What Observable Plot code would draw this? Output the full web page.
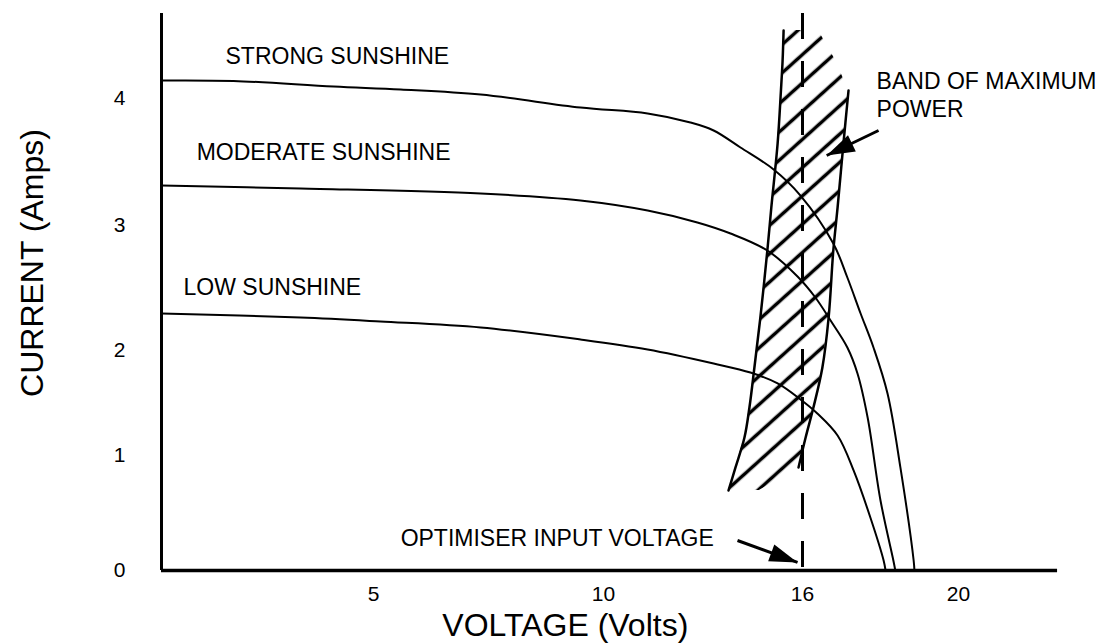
<!DOCTYPE html>
<html>
<head>
<meta charset="utf-8">
<script src="https://cdn.jsdelivr.net/npm/d3@7"></script>
<script src="https://cdn.jsdelivr.net/npm/@observablehq/plot@0.6"></script>
<style>
html, body { margin: 0; padding: 0; background: #fff; }
#chart svg { display: block; }
#chart svg [aria-label$="tick label"] { font-size: 21px; }
</style>
</head>
<body>
<div id="chart"></div>
<script>
// ---- tick labels ----
const xTicks = [5, 10, 16, 20];
const yTicks = [0, 1, 2, 3, 4];

// hand-drawn axis: knots of the (piecewise) voltage and current scales
const xKnots = [0, 5, 10, 16, 20];
const yKnots = [0, 1, 2, 3, 4];

// ---- I-V curves (Volts, Amps) ----
const strongV = [0, 1.70, 4.06, 5.59, 7.33, 9.50, 11.33, 12.62, 13.32, 14.13, 15.13, 15.94, 16.79, 17.15, 17.49, 17.82, 18.18, 18.51, 18.85, 18.87];
const strongA = [4.142, 4.138, 4.094, 4.071, 4.031, 3.929, 3.882, 3.811, 3.748, 3.614, 3.441, 3.236, 2.856, 2.584, 2.296, 2.024, 1.590, 0.896, 0.087, 0];

const moderateV = [0, 3.28, 7.33, 9.50, 11.33, 12.83, 13.83, 14.94, 15.85, 16.33, 16.72, 17.15, 17.41, 17.67, 18.00, 18.33, 18.38];
const moderateA = [3.315, 3.291, 3.252, 3.197, 3.118, 3.024, 2.936, 2.800, 2.592, 2.424, 2.240, 2.024, 1.781, 1.362, 0.609, 0.087, 0];

const lowV = [0, 3.28, 5.15, 7.33, 9.50, 11.33, 13.32, 14.43, 15.25, 15.94, 16.38, 16.90, 17.31, 17.74, 18.08, 18.13];
const lowA = [2.296, 2.264, 2.232, 2.184, 2.088, 2.008, 1.876, 1.790, 1.686, 1.533, 1.400, 1.190, 0.870, 0.461, 0.087, 0];

// ---- band of maximum power (Amps, left/right edge Volts) ----
const bandA      = [4.535, 4.299, 4.063, 3.646, 3.142, 2.800, 2.264, 1.838, 1.457, 1.171, 0.896, 0.696];
const bandLeftV  = [15.43, 15.40, 15.35, 15.25, 15.06, 14.94, 14.73, 14.55, 14.40, 14.25, 13.98, 13.77];
const bandRightV = [16.41, 16.85, 17.18, 17.05, 16.90, 16.79, 16.67, 16.51, 16.28, 16.08, 15.88, 14.70];

// ---- optimiser input voltage ----
const optimiserV = 16;
const axisTopA = 4.669;
const axisEndV = 22.54;

// ---- annotations ----
const noteText = ["STRONG SUNSHINE", "MODERATE SUNSHINE", "LOW SUNSHINE", "BAND OF MAXIMUM", "POWER", "OPTIMISER INPUT VOLTAGE"];
const noteV    = [1.51, 0.83, 0.52, 17.90, 17.90, 5.59];
const noteA    = [4.331, 3.575, 2.504, 4.134, 3.913, 0.278];

const arrowFromV = [14.04, 17.95];
const arrowFromA = [0.261, 3.748];
const arrowToV   = [15.85, 16.62];
const arrowToA   = [0.070, 3.551];

const xTitle = "VOLTAGE (Volts)";
const yTitle = "CURRENT (Amps)";

// ---- build tables ----
const xScaleOpts = {type: "linear", domain: xKnots, range: [161, 373, 603, 802, 958]};
const yScaleOpts = {type: "linear", domain: yKnots, range: [570, 455, 350, 225, 98]};
const sx = Plot.scale({x: xScaleOpts});
const sy = Plot.scale({y: yScaleOpts});

const curveData = [
  ["strong", strongV, strongA],
  ["moderate", moderateV, moderateA],
  ["low", lowV, lowA]
].flatMap(([name, V, A]) => V.map((v, i) => ({series: name, v, a: A[i]})));

const band = bandA.map((a, i) => ({a, l: bandLeftV[i], r: bandRightV[i]}));
const notes = noteText.map((t, i) => ({t, v: noteV[i], a: noteA[i]}));
const arrows = arrowFromV.map((_, i) => {
  const x1 = arrowFromV[i], y1 = arrowFromA[i], x2 = arrowToV[i], y2 = arrowToA[i];
  const dx = sx.apply(x2) - sx.apply(x1), dy = sy.apply(y2) - sy.apply(y1);
  return {x1, y1, x2, y2, rot: Math.atan2(dx, -dy) * 180 / Math.PI};
});

const headSymbol = {
  draw(ctx) {
    const L = 28, w = 9;
    ctx.moveTo(0, 0);
    ctx.lineTo(-w, L);
    ctx.lineTo(w, L);
    ctx.closePath();
  }
};

const font = "'Liberation Sans', Arial, Helvetica, sans-serif";

const chart = Plot.plot({
  width: 1115,
  height: 643,
  marginLeft: 161,
  marginTop: 13,
  marginBottom: 73,
  marginRight: 58,
  style: {fontFamily: font, background: "#fff", color: "#000"},
  x: xScaleOpts,
  y: yScaleOpts,
  marks: [
    Plot.areaX(band, {y: "a", x1: "l", x2: "r", fill: "url(#hatch)", curve: "linear"}),
    Plot.line(band, {x: "l", y: "a", stroke: "#000", strokeWidth: 2.5, curve: "catmull-rom"}),
    Plot.line(band.slice(2, 11), {x: "r", y: "a", stroke: "#000", strokeWidth: 2.5, curve: "catmull-rom"}),
    Plot.ruleX([optimiserV], {y1: axisTopA, y2: 0, stroke: "#000", strokeWidth: 3, strokeDasharray: "26,22"}),
    Plot.line(curveData, {x: "v", y: "a", z: "series", stroke: "#000", strokeWidth: 2, curve: "catmull-rom"}),
    Plot.ruleX([0], {y1: 0, y2: axisTopA, stroke: "#000", strokeWidth: 3}),
    Plot.ruleY([0], {x1: 0, x2: axisEndV, stroke: "#000", strokeWidth: 3.5}),
    Plot.axisX({ticks: xTicks, tickSize: 0, tickPadding: 16, fontSize: 21, tickFormat: d => String(d), label: null}),
    Plot.axisY({ticks: yTicks, tickSize: 0, tickPadding: 36, fontSize: 21, tickFormat: d => String(d), label: null}),
    Plot.text(notes, {x: "v", y: "a", text: "t", textAnchor: "start", fontSize: 23, fill: "#000"}),
    Plot.link(arrows, {x1: "x1", y1: "y1", x2: "x2", y2: "y2", stroke: "#000", strokeWidth: 3}),
    Plot.dot(arrows, {x: "x2", y: "y2", symbol: headSymbol, rotate: "rot", fill: "#000", stroke: "none", r: 5}),
    Plot.text([xTitle], {x: 9.17, y: -0.478, text: d => d, fontSize: 32, fill: "#000"}),
    Plot.text([yTitle], {x: -3.04, y: 2.70, text: d => d, fontSize: 32, rotate: -90, fill: "#000"})
  ]
});

// hatch pattern for the band
const defs = d3.select(chart).insert("defs", ":first-child");
const pat = defs.append("pattern")
  .attr("id", "hatch")
  .attr("patternUnits", "userSpaceOnUse")
  .attr("width", 21)
  .attr("height", 21)
  .attr("patternTransform", "rotate(-42)");
pat.append("line")
  .attr("x1", -2).attr("y1", 10.5).attr("x2", 23).attr("y2", 10.5)
  .attr("stroke", "#000").attr("stroke-width", 3.5);

document.getElementById("chart").appendChild(chart);
</script>
</body>
</html>
